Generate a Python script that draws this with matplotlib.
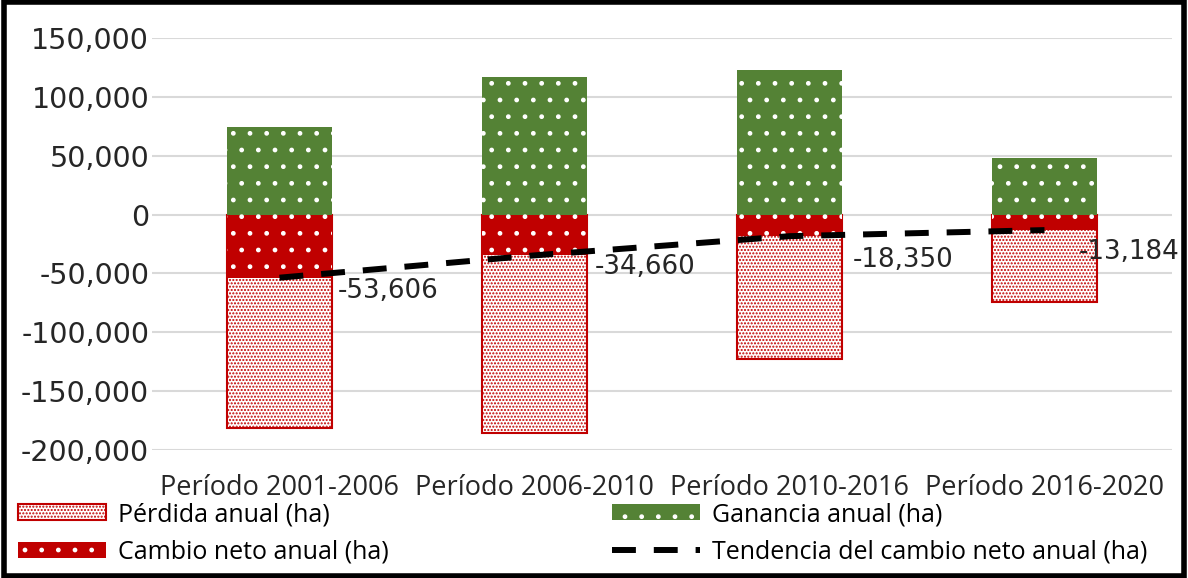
import matplotlib.pyplot as plt
import matplotlib.patches as mpatches
from matplotlib.lines import Line2D

# Data
categories = ['Período 2001-2006', 'Período 2006-2010', 'Período 2010-2016', 'Período 2016-2020']
perdida = [-181000, -185500, -122500, -74000]
ganancia = [74000, 116500, 123000, 48000]
cambio_neto = [-53606, -34660, -18350, -13184]
yticks = [-200000, -150000, -100000, -50000, 0, 50000, 100000, 150000]

# label offsets (pixels) for the net change labels
label_offsets = [(58, -13), (60, -12), (63, -24), (34, -22)]

red = '#c00000'
green = '#548235'
x = range(len(categories))
w = 0.41
dash = (0, (4, 3))

my_dpi = 100
fig = plt.figure(figsize=(1188/my_dpi, 578/my_dpi), dpi=my_dpi)
ax = fig.add_axes([152/1188, 1-450/578, 1020/1188, 412/578])

# bars
ax.bar(x, perdida, w, color='white', edgecolor=red, hatch='.....', linewidth=1.5, zorder=2)
ax.bar(x, ganancia, w, color=green, edgecolor='white', hatch='.', linewidth=0, zorder=2)
ax.bar(x, cambio_neto, w, color=red, edgecolor='white', hatch='.', linewidth=0, zorder=3)

# trend line
ax.plot(x, cambio_neto, color='black', linestyle=dash, linewidth=4.3, zorder=4)
for i, v in enumerate(cambio_neto):
    ax.annotate(f'{v:,}', (i, v), xytext=label_offsets[i], textcoords='offset pixels',
                fontsize=18.8, family='DejaVu Sans', color='#262626', va='center', ha='left', zorder=5)

ax.set_xlim(-0.5, 3.5)
ax.set_ylim(-200000, 150000)
ax.set_yticks(yticks)
ax.set_yticklabels([f'{t:,}' for t in yticks], fontsize=20.5, family='DejaVu Sans', color='#262626')
ax.set_xticks(list(x))
ax.set_xticklabels(categories, fontsize=19.5, family='Open Sans', color='#262626')
ax.tick_params(length=0, axis='y', pad=2)
ax.tick_params(length=0, axis='x', pad=17)
ax.grid(axis='y', color='#d9d9d9', linewidth=1.5, zorder=0)
ax.set_axisbelow(True)
for s in ax.spines.values():
    s.set_visible(False)

# legend, two columns placed separately
h_perdida = mpatches.Patch(facecolor='white', edgecolor=red, hatch='.....', linewidth=1.5)
h_neto = mpatches.Patch(facecolor=red, edgecolor='white', hatch='.', linewidth=0)
h_ganancia = mpatches.Patch(facecolor=green, edgecolor='white', hatch='.', linewidth=0)
h_tend = Line2D([0], [0], color='black', linestyle=dash, linewidth=4.3)

leg_kw = dict(frameon=False, prop={'family': 'Open Sans', 'size': 18}, handlelength=3.5,
              handleheight=0.6, labelspacing=0.5, handletextpad=0.5, borderpad=0,
              borderaxespad=0, loc='upper left')
leg1 = fig.legend([h_perdida, h_neto], ['Pérdida anual (ha)', 'Cambio neto anual (ha)'],
                  bbox_to_anchor=(18/1188, 1-502/578), **leg_kw)
leg2 = fig.legend([h_ganancia, h_tend], ['Ganancia anual (ha)', 'Tendencia del cambio neto anual (ha)'],
                  bbox_to_anchor=(612/1188, 1-502/578), **leg_kw)

# black frame around figure
fig.patches.append(mpatches.Rectangle((0.003, 0.003), 0.994, 0.994, transform=fig.transFigure,
                                      fill=False, edgecolor='black', linewidth=4))

plt.savefig('out.png', dpi=my_dpi)
